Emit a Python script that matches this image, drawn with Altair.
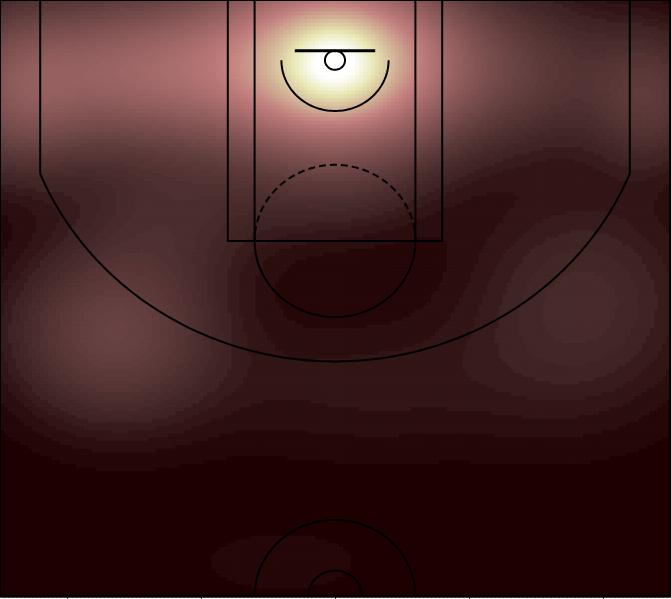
import altair as alt
import numpy as np
import pandas as pd

# ---- shot clusters (court units, basket at 0,0) ----
cl_x  = [0,    0,    -30,  -235, -150, 235,  150,  -165, -120, 185,  20,   0,    -40]
cl_y  = [3,    0,    5,    25,   10,   30,   15,   215,  120,  190,  255,  90,   396]
cl_w  = [0.45, 0.45, 0.20, 0.13, 0.12, 0.07, 0.02, 0.10, 0.04, 0.045, 0.02, 0.04, 0.0095]
cl_sx = [22,   52,   115,  35,   55,   30,   40,   50,   50,   60,   95,   50,   55]
cl_sy = [20,   40,   42,   40,   35,   35,   35,   45,   40,   60,   40,   35,   22]

# ---- court dimensions ----
X_MIN, X_MAX = -250, 250
Y_MIN, Y_MAX = -47.5, 422.5
PAINT_OUT, PAINT_IN, FT_Y = 80, 60, 142.5
FT_R, RA_R, HOOP_R = 60, 40, 7.5
BOARD_Y, BOARD_HALF = -7.5, 30
CORNER_X, THREE_R = 220, 237.5
CC_R_OUT, CC_R_IN = 60, 20
TICKS = [-200, -100, 0, 100, 200]

# ---- density grid ----
nx, ny = 168, 158
xe = np.linspace(X_MIN, X_MAX, nx + 1)
ye = np.linspace(Y_MIN, Y_MAX, ny + 1)
xc = (xe[:-1] + xe[1:]) / 2
yc = (ye[:-1] + ye[1:]) / 2
GX, GY = np.meshgrid(xc, yc)
T = np.zeros_like(GX)
for x0, y0, w, sx, sy in zip(cl_x, cl_y, cl_w, cl_sx, cl_sy):
    T += w * np.exp(-((GX - x0) ** 2 / (2 * sx ** 2) + (GY - y0) ** 2 / (2 * sy ** 2)))
T = np.clip(T, 0, 1)
step = 0.006
T = np.floor(T / step) * step
dx = xe[1] - xe[0]
dy = ye[1] - ye[0]
heat = pd.DataFrame({
    "x": (GX - dx / 2).ravel().round(2),
    "x2": (GX + dx / 2 + 1.2).ravel().round(2),
    "y": (GY - dy / 2).ravel().round(2),
    "y2": (GY + dy / 2 + 1.2).ravel().round(2),
    "t": T.ravel().round(4),
})

# ---- pink colormap stops ----
def hot(t):
    r = np.clip(0.0416 + (1 - 0.0416) * t / 0.365079, 0, 1)
    g = np.clip((t - 0.365079) / (0.746032 - 0.365079), 0, 1)
    b = np.clip((t - 0.746032) / (1 - 0.746032), 0, 1)
    return r, g, b

stops = list(np.linspace(0, 1, 33))
cols = []
for s in stops:
    r, g, b = hot(s)
    pr = np.sqrt((2 * s + r) / 3)
    pg = np.sqrt((2 * s + g) / 3)
    pb = np.sqrt((2 * s + b) / 3)
    cols.append("#%02x%02x%02x" % (int(round(pr * 255)), int(round(pg * 255)), int(round(pb * 255))))

# ---- court line paths ----
rows = []
def add(seg, xs, ys, style="solid"):
    for i, (a, b) in enumerate(zip(xs, ys)):
        rows.append({"seg": seg, "i": i, "x": float(a), "y": float(b), "style": style})

add("side_l", [X_MIN, X_MIN], [Y_MIN, Y_MAX])
add("side_r", [X_MAX, X_MAX], [Y_MIN, Y_MAX])
add("base", [X_MIN, X_MAX], [Y_MIN, Y_MIN])
add("half", [X_MIN, X_MAX], [Y_MAX, Y_MAX])
add("paint_out", [-PAINT_OUT, -PAINT_OUT, PAINT_OUT, PAINT_OUT], [Y_MIN, FT_Y, FT_Y, Y_MIN])
add("paint_in", [-PAINT_IN, -PAINT_IN, PAINT_IN, PAINT_IN], [Y_MIN, FT_Y, FT_Y, Y_MIN])
a = np.linspace(0, np.pi, 80)
add("ft_bottom", FT_R * np.cos(a), FT_Y + FT_R * np.sin(a))
add("ft_top", FT_R * np.cos(a), FT_Y - FT_R * np.sin(a), "dashed")
add("ra", RA_R * np.cos(a), RA_R * np.sin(a))
c = np.linspace(0, 2 * np.pi, 60)
add("hoop", HOOP_R * np.cos(c), HOOP_R * np.sin(c))
corner_y = np.sqrt(THREE_R ** 2 - CORNER_X ** 2)
add("c3_l", [-CORNER_X, -CORNER_X], [Y_MIN, corner_y])
add("c3_r", [CORNER_X, CORNER_X], [Y_MIN, corner_y])
th0 = np.arctan2(corner_y, CORNER_X)
th = np.linspace(th0, np.pi - th0, 160)
add("arc3", THREE_R * np.cos(th), THREE_R * np.sin(th))
add("cc_out", CC_R_OUT * np.cos(a), Y_MAX - CC_R_OUT * np.sin(a))
add("cc_in", CC_R_IN * np.cos(a), Y_MAX - CC_R_IN * np.sin(a))
court = pd.DataFrame(rows)
board = pd.DataFrame({"x": [-BOARD_HALF], "x2": [BOARD_HALF], "y": [BOARD_Y]})

xs = alt.Scale(domain=[X_MIN, X_MAX], nice=False, zero=False)
ys = alt.Scale(domain=[Y_MIN, Y_MAX], nice=False, zero=False, reverse=True)

heat_layer = alt.Chart(heat).mark_rect(strokeWidth=0).encode(
    x=alt.X("x:Q", scale=xs,
            axis=alt.Axis(values=TICKS, labels=False, title=None, grid=False, tickSize=3,
                          domainColor="#444444", tickColor="#444444", domainWidth=2)),
    x2="x2:Q",
    y=alt.Y("y:Q", scale=ys, axis=None),
    y2="y2:Q",
    color=alt.Color("t:Q", scale=alt.Scale(domain=stops, range=cols, interpolate="rgb"), legend=None),
)

solid = alt.Chart(court).transform_filter(alt.datum.style == "solid").mark_line(
    color="black", strokeWidth=2, clip=False).encode(
    x=alt.X("x:Q", scale=xs), y=alt.Y("y:Q", scale=ys), detail="seg:N", order="i:Q")

dashed = alt.Chart(court).transform_filter(alt.datum.style == "dashed").mark_line(
    color="black", strokeWidth=2, strokeDash=[7, 4]).encode(
    x=alt.X("x:Q", scale=xs), y=alt.Y("y:Q", scale=ys), detail="seg:N", order="i:Q")

bb = alt.Chart(board).mark_rule(color="black", strokeWidth=3).encode(
    x=alt.X("x:Q", scale=xs), x2="x2:Q", y=alt.Y("y:Q", scale=ys))

chart = alt.layer(heat_layer, solid, dashed, bb).properties(
    width=670, height=596,
    autosize=alt.AutoSizeParams(type="none"),
    padding={"left": 0, "top": 0, "right": 1, "bottom": 3},
).configure_view(stroke=None, fill=cols[0])

chart.save("out.html", embed_options={"renderer": "svg", "actions": False})
